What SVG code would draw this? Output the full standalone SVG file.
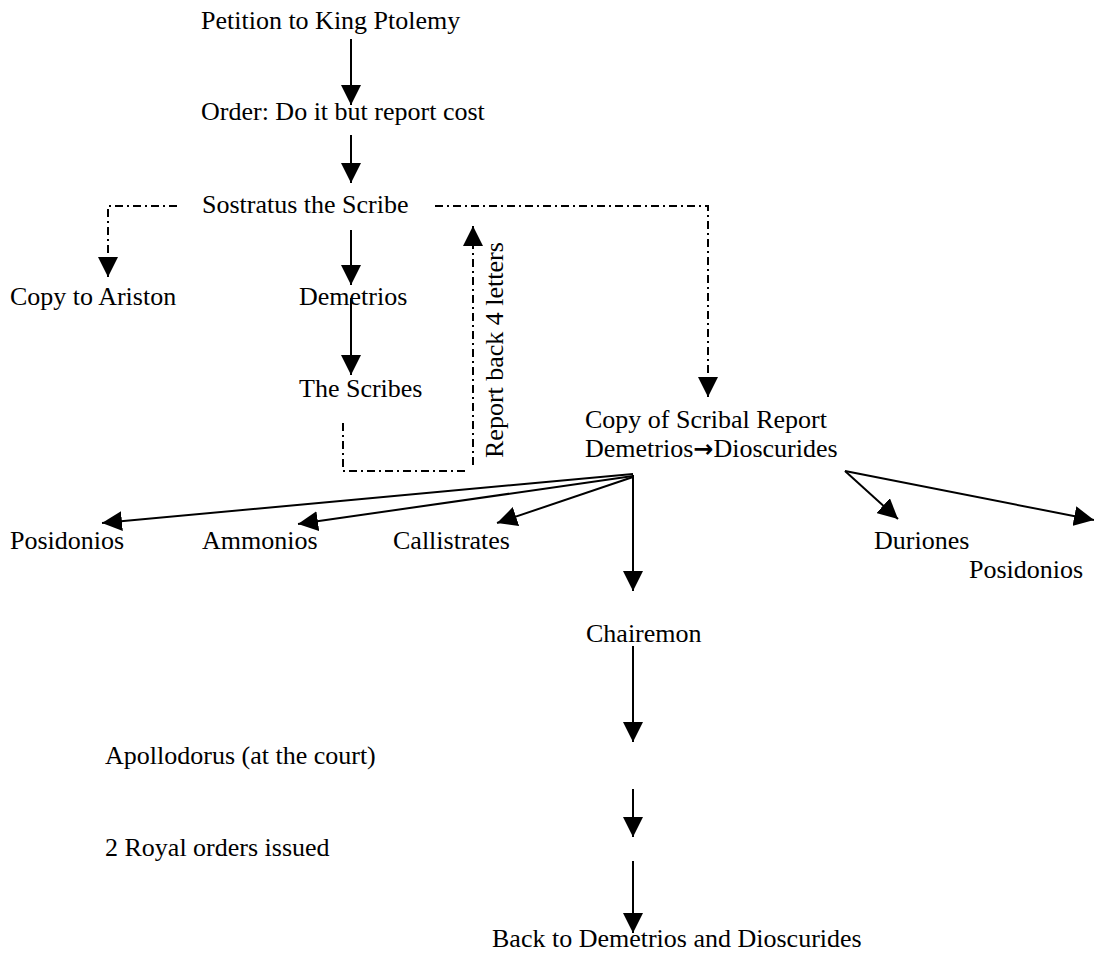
<svg xmlns="http://www.w3.org/2000/svg" width="1094" height="957" viewBox="0 0 1094 957">
<style>
text{font-family:"Liberation Serif","Times New Roman",serif;font-size:26px;fill:#000}
.arr{font-family:"DejaVu Sans",sans-serif;font-weight:bold;font-size:24px}
.c{fill:none;stroke:#000;stroke-width:2}
.d{stroke-dasharray:8 4 2 4}
</style>
<defs>
<marker id="ah" markerUnits="userSpaceOnUse" markerWidth="20" markerHeight="20" refX="20" refY="10" orient="auto" viewBox="0 0 20 20">
<path d="M0,0 L20,10 L0,20 z" fill="#000"/>
</marker>
</defs>
<rect width="1094" height="957" fill="#fff"/>
<g id="connectors">
<line class="c" x1="351" y1="39" x2="351" y2="105" marker-end="url(#ah)"/>
<line class="c" x1="351" y1="135" x2="351" y2="183" marker-end="url(#ah)"/>
<path class="c d" d="M177,206 H108 V277" marker-end="url(#ah)"/>
<path class="c d" d="M435,206 H708 V397" marker-end="url(#ah)"/>
<line class="c" x1="351" y1="230" x2="351" y2="285" marker-end="url(#ah)"/>
<line class="c" x1="351" y1="298" x2="351" y2="375" marker-end="url(#ah)"/>
<path class="c d" d="M343,423 V471 H465"/>
<line class="c d" x1="473" y1="465" x2="473" y2="226" marker-end="url(#ah)"/>
<line class="c" x1="633" y1="474" x2="102" y2="523" marker-end="url(#ah)"/>
<line class="c" x1="633" y1="476" x2="298" y2="524" marker-end="url(#ah)"/>
<line class="c" x1="633" y1="477" x2="497" y2="523" marker-end="url(#ah)"/>
<line class="c" x1="633" y1="475" x2="633" y2="591" marker-end="url(#ah)"/>
<line class="c" x1="845" y1="471" x2="898" y2="519" marker-end="url(#ah)"/>
<line class="c" x1="845" y1="471" x2="1094" y2="520" marker-end="url(#ah)"/>
<line class="c" x1="633" y1="646" x2="633" y2="742" marker-end="url(#ah)"/>
<line class="c" x1="633" y1="789" x2="633" y2="837" marker-end="url(#ah)"/>
<line class="c" x1="633" y1="861" x2="633" y2="933" marker-end="url(#ah)"/>
</g>
<g id="petition"><text x="201" y="29">Petition to King Ptolemy</text></g>
<g id="order"><text x="201" y="120">Order: Do it but report cost</text></g>
<g id="sostratus"><text x="202" y="213">Sostratus the Scribe</text></g>
<g id="ariston"><text x="10" y="305">Copy to Ariston</text></g>
<g id="demetrios"><text x="299" y="305">Demetrios</text></g>
<g id="scribes"><text x="299" y="397">The Scribes</text></g>
<g id="report-back"><text transform="translate(503,458) rotate(-90)">Report back 4 letters</text></g>
<g id="scribal-report"><text x="585" y="428">Copy of Scribal Report</text><text x="585" y="457">Demetrios<tspan class="arr">→</tspan>Dioscurides</text></g>
<g id="posidonios1"><text x="10" y="549">Posidonios</text></g>
<g id="ammonios"><text x="202" y="549">Ammonios</text></g>
<g id="callistrates"><text x="393" y="549">Callistrates</text></g>
<g id="duriones"><text x="874" y="549">Duriones</text></g>
<g id="posidonios2"><text x="969" y="578">Posidonios</text></g>
<g id="chairemon"><text x="586" y="642">Chairemon</text></g>
<g id="apollodorus"><text x="105" y="764">Apollodorus (at the court)</text></g>
<g id="royal-orders"><text x="105" y="856">2 Royal orders issued</text></g>
<g id="back"><text x="492" y="947">Back to Demetrios and Dioscurides</text></g>
</svg>
